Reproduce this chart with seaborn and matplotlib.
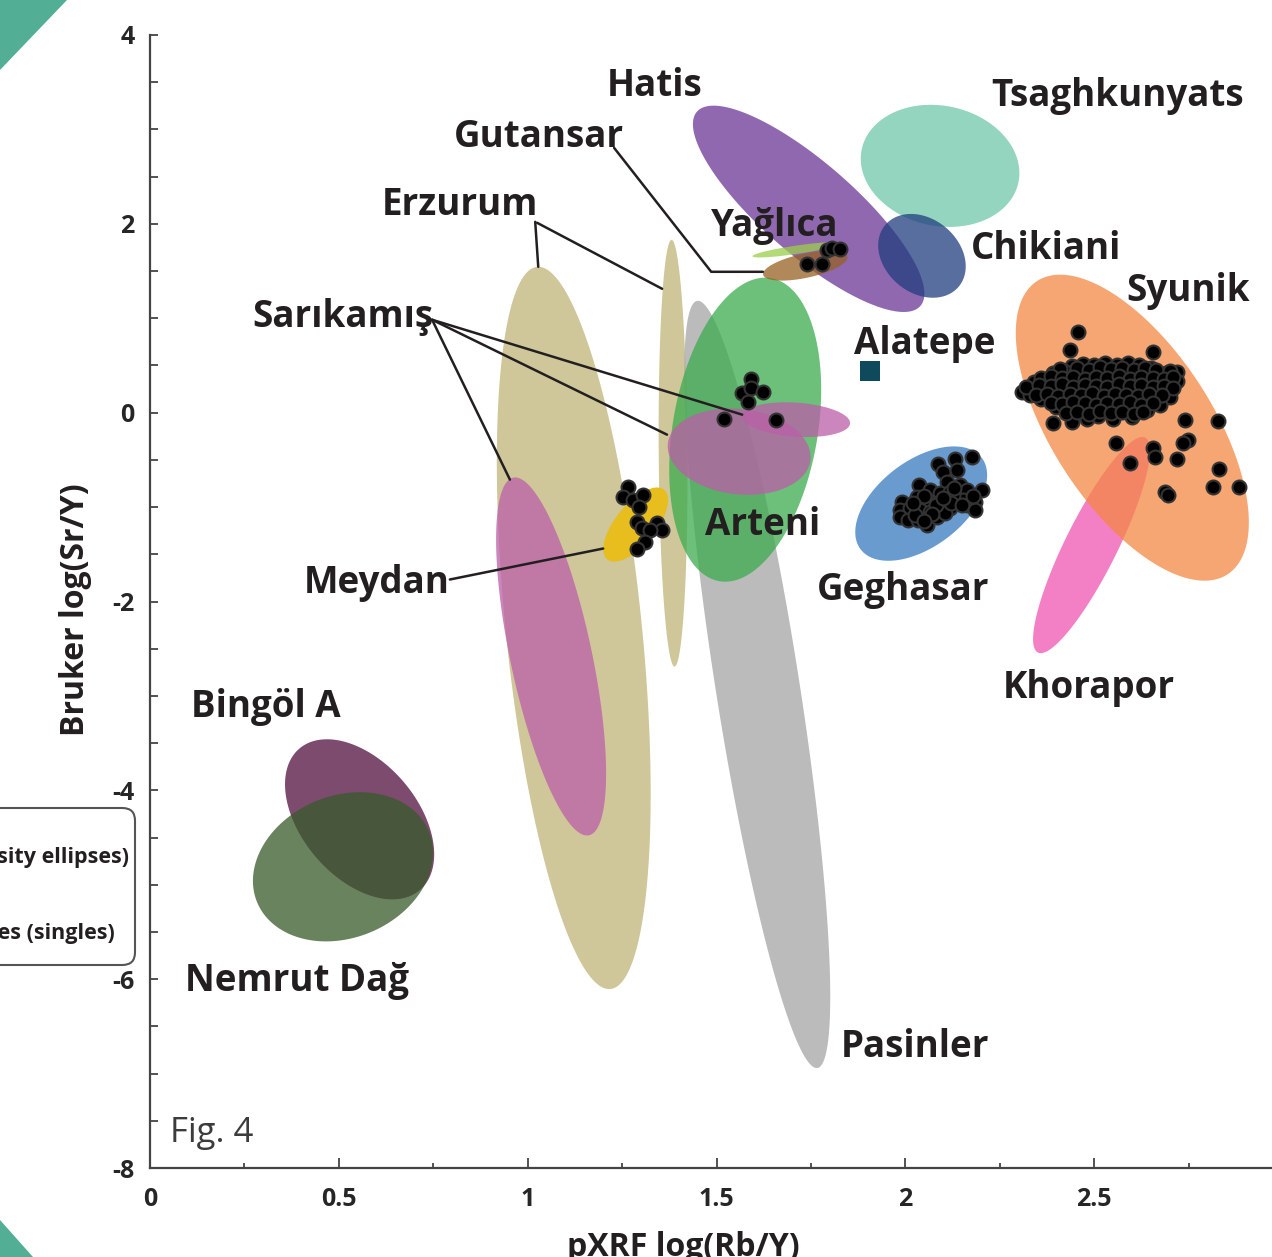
import numpy as np
import pandas as pd
import seaborn as sns
import matplotlib.pyplot as plt
from matplotlib.patches import Polygon, FancyBboxPatch
from matplotlib.ticker import MultipleLocator

# density ellipses: centre (data), semi-axes in x-units, angle as seen on screen
ell_names = ['Erzurum big', 'Sarikamis big', 'Erzurum thin', 'Pasinler', 'Arteni',
             'Sarikamis mid', 'Sarikamis small', 'Meydan', 'Hatis', 'Tsaghkunyats',
             'Chikiani', 'Yaglica', 'Gutansar', 'Geghasar', 'Khorapor', 'Syunik',
             'Bingol A', 'Nemrut Dag']
ell_cx = [1.122, 1.062, 1.385, 1.608, 1.576, 1.560, 1.711, 1.286, 1.744, 2.092,
          2.044, 1.711, 1.735, 2.042, 2.493, 2.601, 0.555, 0.511]
ell_cy = [-2.280, -2.582, -0.429, -2.878, -0.180, -0.413, -0.074, -1.185, 2.159, 2.614,
          1.661, 1.725, 1.556, -0.963, -1.402, -0.159, -4.307, -4.810]
ell_a = [0.961, 0.484, 0.565, 1.028, 0.407, 0.190, 0.143, 0.119, 0.392, 0.212,
         0.127, 0.117, 0.114, 0.201, 0.318, 0.463, 0.246, 0.246]
ell_b = [0.180, 0.108, 0.038, 0.111, 0.192, 0.113, 0.045, 0.053, 0.122, 0.159,
         0.098, 0.011, 0.032, 0.114, 0.069, 0.212, 0.153, 0.188]
ell_ang = [95.8, 101.95, 90.4, 98.9, 80.35, -6.7, -4.0, 50.8, -41.0, -12.0,
           -40.0, 8.4, 12.0, 37.0, 63.5, -57.0, -49.6, 22.4]

# single samples
sar_x = [1.592, 1.568, 1.592, 1.623, 1.584, 1.520, 1.658]
sar_y = [0.360, 0.212, 0.265, 0.222, 0.116, -0.063, -0.074]
mey_x = [1.266, 1.253, 1.279, 1.306, 1.295, 1.290, 1.303, 1.343, 1.356, 1.324, 1.311, 1.290]
mey_y = [-0.783, -0.889, -0.921, -0.868, -0.995, -1.153, -1.217, -1.164, -1.238, -1.238, -1.365, -1.439]
gut_x = [1.740, 1.780, 1.793, 1.806, 1.827]
gut_y = [1.577, 1.577, 1.725, 1.746, 1.735]
geg_x = [2.177, 2.132, 2.137, 2.087, 2.100, 2.037, 2.111, 2.145, 2.203, 2.164, 2.066, 2.092,
         2.119, 2.185, 1.992, 2.031, 2.058, 2.084, 2.111, 2.137, 2.164, 2.185, 1.986, 2.013,
         2.039, 2.066, 2.092, 2.119, 1.986, 2.007, 2.034, 2.060, 2.058, 2.026, 2.084, 2.105,
         2.153, 2.127,
         2.050, 2.080, 2.120, 2.150, 2.070, 2.020, 2.100, 2.130, 2.180, 2.050]
geg_y = [-0.466, -0.487, -0.603, -0.540, -0.624, -0.762, -0.730, -0.762, -0.815, -0.815, -0.815, -0.847,
         -0.836, -0.942, -0.942, -0.889, -0.921, -0.952, -0.921, -0.942, -0.974, -1.026, -1.026, -1.005,
         -1.026, -1.048, -1.026, -1.005, -1.101, -1.132, -1.132, -1.111, -1.185, -1.079, -1.101, -1.058,
         -0.921, -0.868,
         -0.880, -0.980, -0.960, -0.980, -1.070, -0.960, -0.900, -0.800, -0.880, -1.150]
syu_x = [2.44, 2.47, 2.50, 2.53, 2.56, 2.59, 2.62, 2.65,
         2.39, 2.42, 2.45, 2.48, 2.51, 2.54, 2.57, 2.60, 2.63, 2.66, 2.69, 2.72,
         2.34, 2.37, 2.40, 2.43, 2.46, 2.49, 2.52, 2.55, 2.58, 2.61, 2.64, 2.67, 2.70, 2.72,
         2.31, 2.33, 2.35, 2.38, 2.41, 2.44, 2.47, 2.50, 2.53, 2.56, 2.59, 2.62, 2.65, 2.68, 2.70,
         2.36, 2.39, 2.42, 2.45, 2.48, 2.51, 2.54, 2.57, 2.60, 2.63, 2.66,
         2.40, 2.43, 2.46, 2.49, 2.52, 2.55, 2.58, 2.61, 2.64, 2.675,
         2.44, 2.48, 2.51, 2.55, 2.60,
         2.41, 2.455, 2.485, 2.515, 2.545, 2.575, 2.605, 2.635, 2.665, 2.70,
         2.36, 2.385, 2.415, 2.445, 2.475, 2.505, 2.535, 2.565, 2.595, 2.625, 2.655, 2.685, 2.71,
         2.32, 2.355, 2.385, 2.415, 2.445, 2.475, 2.505, 2.535, 2.565, 2.595, 2.625, 2.655, 2.685, 2.71,
         2.345, 2.375, 2.405, 2.435, 2.465, 2.495, 2.525, 2.555, 2.585, 2.615, 2.645, 2.68,
         2.385, 2.415, 2.445, 2.475, 2.505, 2.535, 2.565, 2.595, 2.625, 2.655,
         2.425, 2.455, 2.485, 2.515, 2.545, 2.575, 2.605, 2.63,
         2.458, 2.436, 2.656, 2.391, 2.558, 2.595, 2.656, 2.662, 2.741, 2.828,
         2.749, 2.736, 2.720, 2.831, 2.815, 2.884, 2.688, 2.696]
syu_y = [0.49, 0.52, 0.50, 0.53, 0.51, 0.53, 0.50, 0.47,
         0.42, 0.44, 0.41, 0.43, 0.42, 0.44, 0.41, 0.43, 0.42, 0.40, 0.42, 0.43,
         0.32, 0.35, 0.33, 0.34, 0.32, 0.35, 0.33, 0.31, 0.34, 0.32, 0.35, 0.33, 0.31, 0.34,
         0.22, 0.19, 0.25, 0.23, 0.26, 0.24, 0.22, 0.25, 0.23, 0.26, 0.24, 0.22, 0.25, 0.23, 0.17,
         0.15, 0.13, 0.16, 0.14, 0.12, 0.15, 0.13, 0.16, 0.14, 0.12, 0.15,
         0.06, 0.04, 0.07, 0.05, 0.03, 0.06, 0.04, 0.02, 0.03, 0.085,
         -0.095, -0.07, -0.04, -0.07, -0.05,
         0.46, 0.47, 0.45, 0.48, 0.46, 0.47, 0.45, 0.47, 0.45, 0.44,
         0.37, 0.39, 0.37, 0.38, 0.36, 0.38, 0.37, 0.39, 0.36, 0.38, 0.37, 0.36, 0.38,
         0.27, 0.29, 0.28, 0.30, 0.27, 0.29, 0.28, 0.27, 0.30, 0.28, 0.29, 0.27, 0.28, 0.26,
         0.19, 0.20, 0.18, 0.20, 0.19, 0.21, 0.18, 0.20, 0.19, 0.18, 0.20, 0.19,
         0.10, 0.09, 0.11, 0.10, 0.08, 0.10, 0.09, 0.11, 0.08, 0.10,
         0.00, 0.01, -0.01, 0.02, 0.00, 0.01, -0.01, 0.01,
         0.857, 0.667, 0.646, -0.106, -0.317, -0.529, -0.370, -0.466, -0.074, -0.085,
         -0.286, -0.317, -0.487, -0.593, -0.783, -0.783, -0.836, -0.868]
alatepe_x = [1.907]
alatepe_y = [0.444]

# source labels
lab_text = ['Hatis', 'Tsaghkunyats', 'Gutansar', 'Erzurum', 'Yağlıca', 'Chikiani', 'Syunik',
            'Sarıkamış', 'Alatepe', 'Arteni', 'Geghasar', 'Meydan', 'Khorapor', 'Bingöl A',
            'Nemrut Dağ', 'Pasinler']
lab_x = [1.337, 2.561, 1.030, 0.821, 1.655, 2.373, 2.749, 0.511, 2.052, 1.623, 1.994, 0.599,
         2.487, 0.307, 0.389, 2.026]
lab_y = [3.463, 3.357, 2.923, 2.203, 1.981, 1.738, 1.293, 1.018, 0.732, -1.193, -1.881, -1.807,
         -2.919, -3.119, -6.019, -6.723]

# leader lines (polylines)
leaders = [
    ([1.020, 1.028], [2.021, 1.545]),
    ([1.025, 1.356], [2.011, 1.312]),
    ([1.229, 1.486, 1.623], [2.804, 1.492, 1.492]),
    ([0.747, 1.568], [0.984, -0.021]),
    ([0.747, 1.369], [0.984, -0.233]),
    ([0.747, 0.953], [0.984, -0.709]),
    ([0.794, 1.200], [-1.767, -1.439]),
]

colors = {
    'Erzurum big': '#BFB377', 'Erzurum thin': '#BFB377', 'Sarikamis big': '#BB5EA8',
    'Sarikamis mid': '#BB5EA8', 'Sarikamis small': '#BB5EA8', 'Pasinler': '#A4A4A4',
    'Arteni': '#3BAB4E', 'Meydan': '#E8BD1E', 'Hatis': '#6B3696', 'Tsaghkunyats': '#6FC7A8',
    'Chikiani': '#203E7E', 'Yaglica': '#9BCE4B', 'Gutansar': '#966023', 'Geghasar': '#387AC0',
    'Khorapor': '#F054B2', 'Syunik': '#F48844', 'Bingol A': '#500E3E', 'Nemrut Dag': '#375A2A',
}
ASPECT = 0.25  # screen height of one y unit relative to one x unit

sns.set_style("ticks")
plt.rcParams['font.family'] = ['Open Sans', 'DejaVu Sans']
plt.rcParams['axes.unicode_minus'] = False

fig = plt.figure(figsize=(12.72, 12.57), dpi=100)
ax = fig.add_axes([150 / 1272, 89 / 1257, 1133 / 1272, 1133 / 1257])


def ellipse_xy(cx, cy, a, b, ang):
    t = np.linspace(0, 2 * np.pi, 300)
    th = np.radians(ang)
    X = a * np.cos(t) * np.cos(th) - b * np.sin(t) * np.sin(th)
    Y = a * np.cos(t) * np.sin(th) + b * np.sin(t) * np.cos(th)
    return cx + X, cy + Y / ASPECT


for i, name in enumerate(ell_names):
    ex, ey = ellipse_xy(ell_cx[i], ell_cy[i], ell_a[i], ell_b[i], ell_ang[i])
    al = 1.0 if name == 'Meydan' else 0.75
    ax.fill(ex, ey, color=colors[name], alpha=al, lw=0, zorder=1 + i * 0.01)

for lx, ly in leaders:
    ax.plot(lx, ly, color='#231F20', lw=1.8, zorder=3)

pts = pd.DataFrame({
    'x': sar_x + mey_x + gut_x + geg_x + syu_x,
    'y': sar_y + mey_y + gut_y + geg_y + syu_y,
})
sns.scatterplot(data=pts, x='x', y='y', color='black', edgecolor='#333333',
                linewidth=1.5, s=100, legend=False, zorder=5, ax=ax)
sns.scatterplot(x=alatepe_x, y=alatepe_y, marker='s', color='#0F4A5C', edgecolor='none',
                s=200, legend=False, zorder=5, ax=ax)

for t, x, y in zip(lab_text, lab_x, lab_y):
    ax.text(x, y, t, ha='center', va='center', fontsize=26.5, fontweight='bold',
            color='#231F20', zorder=6)
ax.text(0.053, -7.627, 'Fig. 4', ha='left', va='center', fontsize=25, color='#3C3C3C')

ax.set_xlim(0, 3)
ax.set_ylim(-8, 4)
ax.set_xticks([0, 0.5, 1, 1.5, 2, 2.5, 3])
ax.set_xticklabels(['0', '0.5', '1', '1.5', '2', '2.5', ''])
ax.set_yticks([-8, -6, -4, -2, 0, 2, 4])
ax.set_yticklabels(['-8', '-6', '-4', '-2', '0', '2', '4'])
ax.xaxis.set_minor_locator(MultipleLocator(0.25))
ax.yaxis.set_minor_locator(MultipleLocator(0.5))
ax.tick_params(axis='both', which='both', direction='in', color='#444444', width=1.3,
               labelsize=18)
ax.tick_params(axis='x', which='major', length=7, pad=14)
ax.tick_params(axis='x', which='minor', length=3.5)
ax.tick_params(axis='y', which='both', length=6, pad=11)
for lab in ax.get_xticklabels() + ax.get_yticklabels():
    lab.set_fontweight('bold')
sns.despine(ax=ax)
for sp in ['left', 'bottom']:
    ax.spines[sp].set_color('#444444')
    ax.spines[sp].set_linewidth(1.6)
ax.set_xlabel('')
ax.set_ylabel('')

fig.text(683 / 1272, 1 - 1247 / 1257, 'pXRF log(Rb/Y)', ha='center', va='center',
         fontsize=23, fontweight='bold', color='#231F20')
fig.text(75 / 1272, 1 - 610 / 1257, 'Bruker log(Sr/Y)', ha='center', va='center',
         rotation=90, fontsize=23, fontweight='bold', color='#231F20')

# partly hidden legend box on the left
box = FancyBboxPatch((-20 / 1272, 1 - 965 / 1257), 155 / 1272, 157 / 1257,
                     boxstyle='round,pad=0,rounding_size=0.01', transform=fig.transFigure,
                     facecolor='white', edgecolor='#555555', lw=1.5)
fig.patches.append(box)
fig.text(129 / 1272, 1 - 858 / 1257, 'Geological sources (density ellipses)', ha='right',
         va='center', fontsize=15.5, fontweight='bold', color='#231F20')
fig.text(115 / 1272, 1 - 933 / 1257, 'Archaeological samples (singles)', ha='right',
         va='center', fontsize=15.5, fontweight='bold', color='#231F20')

# corner decorations
fig.patches.append(Polygon([(0, 1), (67 / 1272, 1), (0, 1 - 70 / 1257)], closed=True,
                           transform=fig.transFigure, facecolor='#52AE94', edgecolor='none'))
fig.patches.append(Polygon([(0, 1 - 1220 / 1257), (0, 0), (33 / 1272, 0)], closed=True,
                           transform=fig.transFigure, facecolor='#52AE94', edgecolor='none'))

fig.savefig('out.png', dpi=100)
